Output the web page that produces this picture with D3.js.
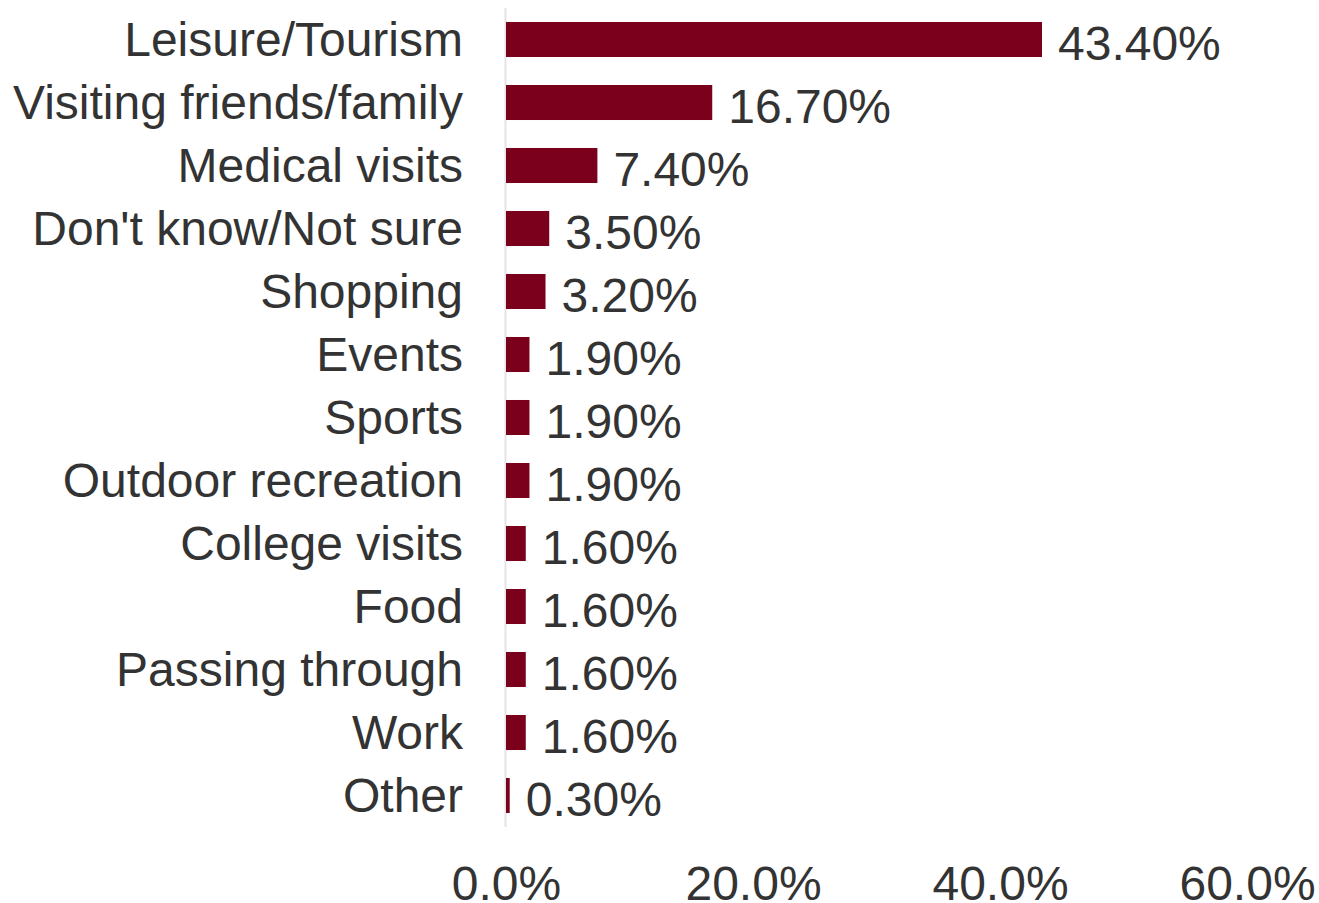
<!DOCTYPE html>
<html>
<head>
<meta charset="utf-8">
<script src="https://cdn.jsdelivr.net/npm/d3@7"></script>
<style>
  html, body { margin: 0; padding: 0; background: #fff; }
  svg { display: block; font-family: "Liberation Sans", Arial, sans-serif; }
</style>
</head>
<body>
<svg id="chart" width="1319" height="903"></svg>
<script>
// Reasons for visiting (share of respondents, %)
const categories = [
  "Leisure/Tourism", "Visiting friends/family", "Medical visits", "Don't know/Not sure",
  "Shopping", "Events", "Sports", "Outdoor recreation", "College visits",
  "Food", "Passing through", "Work", "Other"
];
const values = [43.4, 16.7, 7.4, 3.5, 3.2, 1.9, 1.9, 1.9, 1.6, 1.6, 1.6, 1.6, 0.3];
const xTicks = [0, 20, 40, 60];

const svg = d3.select("#chart");
const plotLeft = 506, plotRight = 1247, plotTop = 8, plotBottom = 827;

const x = d3.scaleLinear().domain([0, 60]).range([plotLeft, plotRight]);
const y = d3.scaleBand().domain(categories).range([plotTop, plotBottom])
  .paddingInner(0.444).paddingOuter(0.222);

const textColor = "#333333";
const barColor = "#7a001b";
const fontSize = 48;

// vertical baseline
svg.append("line")
  .attr("x1", x(0) - 0.5).attr("x2", x(0) - 0.5)
  .attr("y1", plotTop).attr("y2", plotBottom)
  .attr("stroke", "#e3e3e3").attr("stroke-width", 2);

// bars
svg.selectAll("rect.bar").data(values).join("rect")
  .attr("class", "bar")
  .attr("x", x(0))
  .attr("y", (d, i) => y(categories[i]))
  .attr("width", d => x(d) - x(0))
  .attr("height", y.bandwidth())
  .attr("fill", barColor);

// value labels
svg.selectAll("text.val").data(values).join("text")
  .attr("class", "val")
  .attr("x", d => x(d) + 16)
  .attr("y", (d, i) => y(categories[i]) + y.bandwidth() / 2)
  .attr("dy", "0.42em")
  .attr("font-size", fontSize)
  .attr("fill", textColor)
  .text(d => d.toFixed(2) + "%");

// category axis
const yAxis = svg.append("g")
  .attr("transform", `translate(${x(0) - 43},0)`)
  .call(d3.axisLeft(y).tickSize(0).tickPadding(0));
yAxis.select(".domain").remove();
yAxis.selectAll("text")
  .attr("font-size", fontSize)
  .attr("font-family", "Liberation Sans, Arial, sans-serif")
  .attr("fill", textColor)
  .attr("dy", "0.35em");

// value axis
const xAxis = svg.append("g")
  .attr("transform", `translate(0,${plotBottom + 39})`)
  .call(d3.axisBottom(x).tickValues(xTicks).tickSize(0).tickPadding(0)
    .tickFormat(d => d.toFixed(1) + "%"));
xAxis.select(".domain").remove();
xAxis.selectAll("text")
  .attr("font-size", fontSize)
  .attr("font-family", "Liberation Sans, Arial, sans-serif")
  .attr("fill", textColor)
  .attr("dy", "0.71em");
</script>
</body>
</html>
